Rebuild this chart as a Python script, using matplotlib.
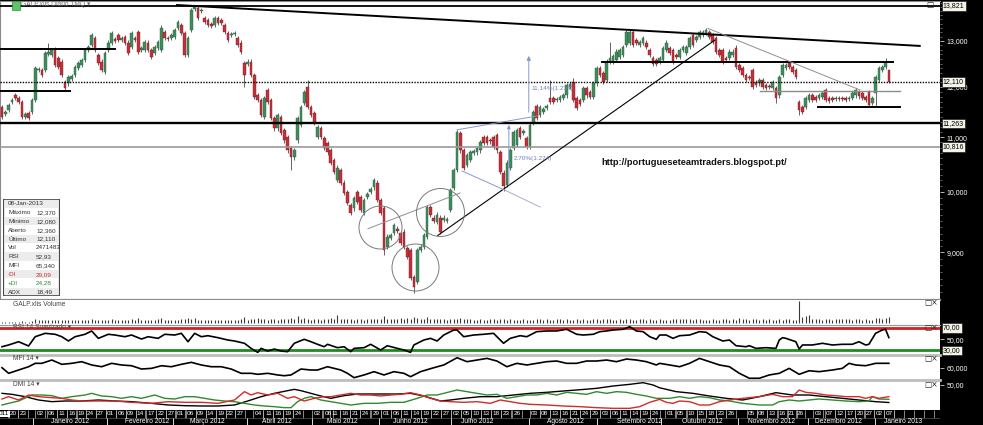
import numpy as np
import matplotlib
matplotlib.use("Agg")
import matplotlib.pyplot as plt
from matplotlib.patches import Rectangle, FancyBboxPatch
from matplotlib.ticker import FixedLocator, FixedFormatter, NullFormatter

plt.rcParams["font.family"] = ["Liberation Sans", "DejaVu Sans"]

# ---------------- data (GALP, daily, Dec-2011 .. 08-Jan-2013) ----------------
opens = [
    11.59, 11.45, 11.53, 11.69, 11.83, 11.77, 11.69, 11.39, 11.47, 11.49,
    11.73, 12.36, 12.36, 12.36, 12.71, 12.69, 12.82, 12.62, 12.54, 12.11,
    12.08, 12.17, 12.25, 12.40, 12.47, 12.58, 12.80, 12.91, 13.07, 12.69,
    12.54, 12.32, 12.80, 12.96, 13.05, 13.14, 13.02, 13.09, 12.96, 12.87,
    13.07, 13.21, 12.80, 12.80, 12.96, 12.80, 12.73, 12.84, 12.80, 13.21,
    13.07, 13.07, 13.09, 13.30, 13.37, 13.18, 12.69, 13.25, 13.74, 13.77,
    13.70, 13.53, 13.48, 13.39, 13.37, 13.53, 13.48, 13.37, 13.18, 13.14,
    13.16, 13.07, 12.96, 12.51, 12.49, 12.54, 12.25, 11.83, 11.73, 11.39,
    11.94, 11.73, 11.37, 11.17, 11.39, 11.14, 11.00, 10.79, 10.62, 10.94,
    11.23, 11.67, 12.00, 11.59, 11.47, 11.00, 11.17, 10.98, 10.89, 10.75,
    10.57, 10.21, 10.39, 10.16, 10.00, 9.77, 9.72, 10.00, 9.91, 9.64,
    9.91, 10.00, 10.08, 10.16, 9.86, 9.72, 9.09, 9.23, 9.31, 9.38,
    9.31, 9.33, 9.07, 9.04, 8.62, 8.55, 9.04, 9.09, 9.25, 9.74,
    9.56, 9.49, 9.56, 9.52, 9.51, 9.69, 10.07, 10.39, 11.08, 10.75,
    10.48, 10.57, 10.70, 10.71, 10.75, 11.00, 11.00, 10.94, 11.00, 11.04,
    10.71, 10.34, 10.12, 10.43, 10.79, 10.85, 11.17, 11.08, 10.98, 10.81,
    11.27, 11.61, 11.43, 11.49, 11.57, 11.77, 11.77, 11.73, 11.73, 11.77,
    11.83, 12.00, 12.11, 11.77, 11.73, 11.73, 11.98, 11.90, 11.79, 12.08,
    12.40, 12.29, 12.15, 12.54, 12.54, 12.58, 12.65, 12.69, 12.91, 12.96,
    13.21, 13.02, 12.91, 12.96, 12.96, 12.80, 12.62, 12.58, 12.54, 12.58,
    12.80, 12.84, 12.80, 12.69, 12.65, 12.80, 12.73, 12.87, 13.14, 13.02,
    13.09, 13.14, 13.18, 13.21, 13.14, 13.07, 12.80, 12.80, 12.62, 12.62,
    12.69, 12.84, 12.47, 12.40, 12.25, 12.21, 12.36, 12.11, 12.08, 12.15,
    12.04, 12.02, 11.98, 11.98, 11.83, 12.25, 12.40, 12.51, 12.43, 12.36,
    11.69, 11.59, 11.59, 11.73, 11.83, 11.79, 11.77, 11.79, 11.94, 11.77,
    11.77, 11.75, 11.77, 11.77, 11.77, 11.75, 11.77, 11.83, 11.90, 11.87,
    11.79, 11.90, 11.67, 11.87, 12.15, 12.36, 12.43, 12.36,
]
closes = [
    11.39, 11.49, 11.63, 11.73, 11.77, 11.69, 11.39, 11.45, 11.37, 11.73,
    12.40, 12.38, 12.25, 12.73, 12.76, 12.80, 12.47, 12.43, 12.25, 11.98,
    12.21, 12.23, 12.43, 12.51, 12.58, 12.80, 12.87, 13.14, 12.80, 12.51,
    12.36, 12.73, 12.96, 13.18, 13.00, 13.02, 13.07, 12.96, 12.73, 13.18,
    13.02, 12.76, 12.84, 12.98, 12.80, 12.65, 12.87, 12.98, 13.30, 13.07,
    13.05, 13.14, 13.25, 13.44, 13.18, 12.69, 13.07, 13.72, 13.79, 13.53,
    13.72, 13.44, 13.37, 13.35, 13.53, 13.41, 13.41, 13.21, 13.02, 13.16,
    13.18, 12.91, 12.76, 12.25, 12.54, 12.25, 11.79, 11.73, 11.43, 11.77,
    11.69, 11.37, 11.17, 11.43, 11.08, 10.94, 10.75, 10.62, 10.75, 11.37,
    11.59, 11.90, 11.59, 11.43, 11.27, 11.19, 11.00, 10.79, 10.71, 10.52,
    10.35, 10.43, 10.16, 9.98, 9.81, 9.64, 9.89, 9.83, 9.69, 9.86,
    9.96, 10.05, 10.21, 9.86, 9.64, 9.04, 9.25, 9.28, 9.44, 9.34,
    9.15, 9.09, 8.93, 8.61, 8.47, 9.04, 9.09, 9.28, 9.74, 9.61,
    9.51, 9.61, 9.33, 9.56, 9.54, 10.03, 10.39, 11.10, 10.75, 10.43,
    10.66, 10.71, 10.73, 10.79, 10.90, 10.89, 10.89, 10.92, 10.81, 10.75,
    10.35, 10.10, 10.52, 10.75, 11.10, 11.14, 11.00, 11.12, 10.81, 11.23,
    11.49, 11.37, 11.59, 11.55, 11.61, 11.69, 11.69, 11.75, 11.79, 11.83,
    12.04, 12.06, 11.73, 11.57, 11.65, 11.98, 11.83, 11.79, 12.08, 12.40,
    12.25, 12.11, 12.54, 12.62, 12.67, 12.76, 12.80, 12.87, 13.21, 13.21,
    12.91, 12.96, 12.98, 13.07, 12.87, 12.69, 12.49, 12.49, 12.62, 12.84,
    12.96, 12.73, 12.54, 12.65, 12.80, 12.87, 12.87, 13.07, 12.91, 13.09,
    13.21, 13.21, 13.25, 13.09, 12.98, 12.76, 12.69, 12.54, 12.58, 12.76,
    12.76, 12.43, 12.36, 12.25, 12.15, 12.19, 12.00, 12.04, 12.15, 12.00,
    11.98, 12.00, 12.11, 11.77, 12.21, 12.47, 12.47, 12.43, 12.32, 12.21,
    11.53, 11.49, 11.77, 11.83, 11.73, 11.73, 11.83, 11.87, 11.73, 11.71,
    11.73, 11.77, 11.75, 11.76, 11.73, 11.77, 11.87, 11.94, 11.81, 11.77,
    11.73, 11.63, 11.77, 12.21, 12.40, 12.43, 12.54, 12.11,
]
# candles whose shadows are long enough to read
wick_highs = {14: 12.96, 48: 13.37, 58: 13.821, 92: 12.15, 165: 12.15, 172: 12.19,
              183: 12.98, 221: 12.91, 266: 12.62, 267: 12.37}
wick_lows = {73: 12.00, 87: 10.39, 115: 8.96, 124: 8.39, 151: 10.01, 233: 11.67,
             240: 11.43, 263: 11.59, 267: 12.08}
# volume, millions of shares
volume = [
    0.6, 0.5, 0.6, 0.5, 0.6, 0.5, 0.7, 0.6, 0.6, 0.8,
    1.6, 1.2, 1.1, 1.3, 1.2, 1.1, 1.2, 1.3, 1.2, 1.4,
    1.3, 1.2, 1.1, 1.2, 1.1, 1.2, 1.4, 1.5, 1.3, 1.2,
    1.4, 1.3, 1.2, 1.5, 1.3, 1.2, 1.1, 1.2, 1.3, 1.9,
    1.2, 2.2, 1.3, 1.2, 1.3, 1.4, 1.2, 1.5, 2.2, 1.3,
    1.2, 1.3, 1.2, 1.4, 1.6, 1.5, 2.0, 1.6, 2.3, 1.4,
    1.2, 1.3, 1.2, 1.1, 1.3, 1.2, 1.2, 1.3, 1.4, 1.3,
    1.2, 1.4, 1.6, 2.8, 1.4, 1.5, 1.7, 2.0, 1.5, 1.6,
    1.4, 1.6, 1.5, 1.4, 1.8, 1.6, 1.5, 2.0, 1.8, 3.0,
    1.6, 2.2, 1.5, 1.4, 1.6, 1.5, 1.4, 1.6, 1.8, 2.0,
    1.6, 3.4, 1.8, 1.5, 1.6, 1.7, 1.4, 1.5, 1.6, 1.4,
    1.5, 1.6, 1.7, 1.5, 1.8, 3.2, 1.6, 1.7, 1.9, 1.8,
    2.0, 1.9, 2.1, 1.8, 2.4, 2.2, 1.9, 1.6, 2.5, 1.8,
    1.6, 1.5, 1.7, 1.6, 1.4, 1.5, 1.8, 1.6, 2.0, 1.7,
    1.5, 1.6, 1.4, 1.3, 1.5, 1.4, 1.3, 1.5, 1.6, 1.4,
    1.5, 1.7, 1.4, 1.6, 1.3, 1.4, 1.3, 1.5, 1.4, 1.3,
    1.4, 1.6, 1.5, 1.4, 1.5, 1.3, 1.4, 1.5, 1.6, 1.4,
    1.5, 1.4, 1.3, 1.6, 1.4, 1.5, 1.3, 1.4, 1.5, 1.6,
    1.4, 1.5, 1.6, 1.5, 1.4, 1.3, 1.5, 1.4, 1.6, 1.5,
    1.4, 1.3, 1.5, 1.6, 1.4, 1.5, 1.3, 1.4, 1.5, 1.4,
    1.3, 1.4, 1.5, 1.9, 1.6, 1.8, 1.5, 1.7, 1.4, 1.6,
    1.5, 1.4, 1.3, 1.4, 1.5, 1.3, 1.4, 1.5, 1.6, 1.4,
    1.5, 1.4, 2.2, 1.6, 1.5, 1.4, 1.6, 1.5, 1.4, 1.5,
    1.4, 1.5, 1.3, 1.4, 1.5, 1.4, 1.6, 1.5, 1.4, 1.3,
    9.6, 2.6, 2.9, 3.4, 1.8, 1.6, 1.5, 1.4, 1.6, 1.5,
    1.4, 1.5, 1.6, 1.5, 1.6, 1.5, 1.4, 1.6, 1.5, 1.4,
    1.5, 1.3, 1.4, 2.1, 2.0, 1.8, 2.2, 2.47,
]

# indicator lines, read as vertices (candle index, value)
rsi_x = [0, 2, 5, 8, 10, 13, 16, 18, 20, 22, 25, 27, 29, 32, 34, 37, 39, 42, 44, 47,
         49, 52, 54, 56, 58, 60, 62, 65, 68, 70, 73, 75, 77, 78, 80, 82, 84, 86, 88, 91,
         93, 95, 97, 98,
         101, 103, 105, 106, 109, 111, 114, 116, 119, 121, 123, 124, 127, 129, 131, 133,
         136, 137, 139, 142, 145, 148, 149, 151, 153, 156, 158, 161, 164, 167, 170, 173,
         175, 178, 180, 182, 184, 187, 189, 191, 193, 195, 197,
         198, 200, 202, 204, 207, 210, 212, 214, 217, 219, 221, 224, 225, 227, 230, 233,
         234, 235, 236, 239, 240, 241, 244, 247, 250, 253, 256, 258, 260, 261, 263, 265,
         266, 267]
rsi_y = [36.7, 39.8, 45.6, 38, 54.5, 60.5, 58.8, 54.5, 46.9, 54.5, 58.8, 64.7, 51.6, 58.8,
         57.5, 54.5, 57.5, 50.4, 54.5, 51.6, 58.8, 57.5, 60.5, 45.6, 60.5, 54.5, 56.3, 52.8,
         48.6, 46.9, 42.8, 33.8, 26.7, 33.8, 29.1, 32.6, 29.1, 27.9, 42.8, 49.9, 45.6, 41,
         36.7, 41,
         35, 36.7, 27.9, 33.8, 35, 41, 30.9, 38.5, 33.8, 30.9, 26.7, 39.8, 48.6, 51.6, 46.9,
         57.5, 66.4, 66.4, 54.5, 57.5, 58.8, 60.5, 54.5, 42.8, 51.6, 56.3, 54.5, 63.5, 64.7,
         64.7, 67.7, 58.8, 57.5, 58.8, 63.5, 64.7, 66.4, 67.7, 72.3, 64.7, 63.5, 54.5, 49.9,
         57.5, 57.5, 51.6, 56.3, 57.5, 63.5, 62.4, 54.5, 46.9, 48.6, 38.5, 36.7, 38.5, 33.8,
         35, 33.8, 48.6, 52.8, 51.6, 45.6, 32.6, 39.8, 39.8, 42.8, 39.8, 41, 41, 45.6, 39.8,
         41, 60.5, 66.4, 67.7, 52.93]

mfi_x = [0, 2, 5, 8, 10, 12, 15, 18, 21, 24, 27, 30, 33, 36, 39, 42, 45, 48, 51, 54,
         57, 60, 63, 66, 69, 72, 75, 77, 80, 83, 85, 87, 90, 93, 95, 98,
         102, 104, 106, 109, 112, 115, 118, 121, 123, 126, 130, 133, 137, 140, 143, 146,
         149, 152, 155, 158, 161, 164, 167, 170, 173, 176, 179, 182, 185, 188, 191, 194, 197,
         198, 201, 204, 207, 210, 213, 216, 219, 222, 225, 228, 231, 234, 237, 240, 243,
         246, 250, 253, 255, 257, 260, 263, 267]
mfi_y = [60, 53.2, 57.2, 61.2, 65.3, 65.3, 69.3, 64.1, 65.3, 67.3, 63.3, 61.2, 65.3, 63.3,
         62.4, 58.4, 59.2, 62.4, 61.2, 64.1, 66.5, 63.3, 61.2, 61.2, 58.4, 53.2, 53.2, 52,
         53.2, 51.2, 50.3, 51.2, 58.4, 57.2, 57.2, 61.2,
         57.2, 53.2, 47.9, 51.2, 55.2, 51.2, 55.2, 53.2, 49.1, 55.2, 60, 63.3, 72.1, 67.3,
         69.3, 71.3, 68.1, 61.2, 65.3, 63.3, 65.3, 67.3, 68.1, 65.3, 65.3, 68.1, 68.1, 69.3,
         67.3, 70.5, 69.3, 67.3, 63.3,
         65.3, 63.3, 61.2, 65.3, 71.3, 67.3, 63.3, 61.2, 53.2, 47.2, 47.2, 51.2, 53.2, 59.2,
         52, 56.3, 55.2, 57.2, 59.2, 65.3, 63.3, 62.4, 65.3, 65.34]

adx_x = [0, 3, 7, 11, 15, 19, 24, 29, 34, 39, 45, 50, 55, 60, 65, 70, 74, 78, 82, 86,
         88, 90, 93, 96, 99,
         103, 107, 111, 115, 119, 123, 127, 132, 135, 139, 144, 149, 154, 159, 164, 169,
         174, 179, 184, 189, 193, 196,
         198, 203, 208, 213, 218, 223, 228, 233, 238, 243, 248, 253, 258, 263, 267]
adx_y = [35, 33.2, 29, 23, 20, 21.2, 21.2, 23, 21.2, 20, 17, 14, 12.8, 12.2, 12.2, 14,
         21.2, 29, 35, 39.8, 42.2, 39.8, 35, 30.2, 26,
         30.8, 33.8, 33.8, 33.8, 33.8, 35, 30.2, 21.2, 23, 26, 29, 29, 32, 35, 36.8, 39.2,
         41.5, 44, 48.2, 51.2, 54.2, 50,
         45, 38, 35, 30.2, 26, 23, 29, 36.2, 32, 32, 29, 26, 23, 20, 18.49]
mdi_x = [0, 2, 5, 8, 11, 15, 18, 21, 24, 29, 34, 39, 45, 50, 55, 60, 65, 70, 73, 75,
         77, 80, 83, 86, 88, 91, 94, 97, 99,
         102, 105, 108, 111, 114, 117, 120, 123, 126, 129, 132, 135, 139, 143, 147, 150,
         153, 156, 159, 164, 169, 174, 179, 184, 189, 192, 195, 198,
         200, 202, 204, 207, 210, 213, 216, 219, 223, 228, 232, 235, 238, 240, 242, 245,
         248, 251, 254, 258, 260, 262, 264, 267]
mdi_y = [24.8, 29, 23, 32, 29, 27.2, 26, 23, 21.2, 21.2, 21.2, 18.8, 17, 20, 18.8, 18.8,
         17, 23, 38, 32, 36.2, 32, 35, 26, 29, 21.2, 26, 29, 29,
         32, 35, 32, 32, 30.2, 32, 33.2, 36.2, 32, 26, 21.2, 20, 18.8, 20, 17, 23, 20, 17,
         15.2, 14, 12.2, 11, 9.2, 8, 8, 11, 18.8, 24.2,
         18.8, 17, 21.2, 20, 14, 14, 20, 23, 26, 29, 33.2, 29, 29, 41, 36.8, 35, 32, 30.8,
         29, 29, 26, 29, 26, 29.09]
pdi_x = [0, 2, 5, 9, 12, 15, 18, 21, 25, 27, 30, 33, 36, 39, 42, 46, 49, 52, 55, 58,
         61, 64, 67, 70, 73, 76, 79, 82, 85, 87, 89, 91, 93, 96, 99,
         102, 105, 109, 113, 117, 121, 125, 128, 131, 137, 140, 143, 146, 149, 152, 155,
         158, 161, 164, 167, 170, 173, 176, 179, 182, 185, 188, 191, 194, 197,
         201, 204, 207, 210, 213, 216, 219, 223, 228, 232, 234, 237, 240, 243, 246, 250,
         254, 258, 261, 262, 264, 267]
pdi_y = [14, 17, 21.2, 32, 32, 30.8, 26, 29, 32, 35, 30.2, 29, 26, 29, 26, 32, 26, 24.8,
         29, 29, 26, 23, 21.2, 20, 17, 14, 12.2, 11, 9.2, 9.2, 20, 26, 29, 23, 20,
         17, 14, 17, 17, 18.8, 18.8, 26, 32, 32, 41, 38, 35, 32, 33.2, 26, 29, 32, 32, 35,
         32, 36.8, 35, 33.2, 38, 35, 38, 36.8, 33.2, 30.2, 26,
         26, 29, 26, 29, 27.2, 23, 21.2, 17, 14, 14, 20, 23, 21.2, 23, 24.8, 23, 21.2, 20,
         21.2, 29, 24.8, 24.28]

# study objects drawn on the price panel: (index0, price0, index1, price1)
trend_lines = [(52.7, 13.84, 276.3, 12.89), (131.2, 9.27, 214.6, 13.02)]
thin_gray_lines = [(212.5, 13.29, 258.3, 11.94), (110.2, 9.38, 137.9, 9.98)]
support_lines = [(-0.6, 12.82, 34.0, 12.82), (-0.6, 11.92, 20.5, 11.92),
                 (180.6, 12.53, 268.2, 12.53), (245.6, 11.59, 270.3, 11.59)]
range_line = (228.2, 11.92, 270.3, 11.92)
circles = [(113.8, 9.41), (124.3, 8.78), (131.8, 9.66)]
circle_px = [43, 47, 48]
boxed_levels = [13.821, 12.110, 11.263, 10.816]
boxed_texts = ["13,821", "12,110", "11,263", "10,816"]

day_labels = ["011", "20", "23", "02", "06", "11", "16", "19", "24", "27", "01", "06", "09",
              "14", "17", "22", "27", "01", "06", "09", "14", "19", "22", "27", "04", "11",
              "16", "19", "24", "02", "08",
              "11", "16", "21", "24", "29", "01", "06", "11", "14", "19", "22", "27", "02",
              "05", "10", "13", "18", "23", "26", "03", "08", "13", "16", "21", "24", "29",
              "03", "06", "11", "14", "19", "24",
              "01", "05", "10", "15", "18", "23", "26", "05", "08", "13", "16", "21", "26",
              "03", "07", "12", "17", "20", "27", "02", "07"]
day_pos = [0.6, 3.3, 6.3, 11.4, 15.0, 18.0, 21.0, 23.9, 26.7, 29.7, 32.7, 35.8, 38.7,
           41.7, 44.8, 47.8, 50.8, 53.7, 56.8, 59.8, 62.8, 65.9, 68.8, 71.8, 77.2, 80.2,
           83.1, 86.2, 89.2, 94.8, 98.2,
           100.2, 103.2, 106.3, 109.3, 112.6, 115.6, 118.6, 121.6, 124.7, 127.7, 130.6,
           133.7, 136.7, 139.7, 142.7, 145.7, 148.7, 151.7, 155.0, 160.4, 163.4, 166.5,
           169.5, 172.5, 175.5, 178.5, 181.5, 184.6, 187.6, 190.5, 193.6, 196.6,
           201.1, 204.3, 207.6, 210.6, 213.6, 216.6, 219.6, 225.7, 228.7, 231.7, 235.0,
           237.7, 240.4, 245.8, 249.2, 252.2, 255.3, 258.3, 261.1, 264.0, 267.1]
future_cells = [268.6, 271.6, 274.6, 277.6, 280.6]
month_labels = ["Janeiro 2012", "Fevereiro 2012", "Março 2012", "Abril 2012", "Maio 2012",
                "Junho 2012", "Julho 2012", "Agosto 2012", "Setembro 2012", "Outubro 2012",
                "Novembro 2012", "Dezembro 2012", "Janeiro 2013"]
month_pos = [20.5, 43.6, 61.7, 82.8, 102.6, 122.8, 143.0, 169.5, 192.0, 210.7, 231.8,
             251.7, 271.2]
month_sep = [9.3, 31.6, 51.5, 73.9, 93.2, 113.5, 135.1, 158.6, 179.1, 198.4, 221.7,
             242.8, 262.9]

info_rows = [("08-Jan-2013", ""), ("Máximo", "12,370"), ("Mínimo", "12,080"),
             ("Aberto", "12,360"), ("Último", "12,110"), ("Vol", "2471483"),
             ("RSI", "52,93"), ("MFI", "65,340"), ("-DI", "29,09"), ("+DI", "24,28"),
             ("ADX", "18,49")]

# ---------------- layout ----------------
W, H = 983, 425
PLOT_R = 940
XMIN, XMAX = -0.6, 282.4

fig = plt.figure(figsize=(W / 100, H / 100), dpi=100, facecolor="black")


def panel(top, bottom):
    a = fig.add_axes([0, 1 - bottom / H, PLOT_R / W, (bottom - top) / H])
    a.set_facecolor("white")
    a.set_xlim(XMIN, XMAX)
    a.set_xticks([])
    for s in a.spines.values():
        s.set_visible(False)
    a.yaxis.tick_right()
    return a


def right_labels(a, ticks, labels):
    a.yaxis.set_major_locator(FixedLocator(ticks))
    a.yaxis.set_major_formatter(FixedFormatter(labels))
    a.tick_params(axis="y", which="major", colors="#d0d0d0", labelcolor="white",
                  labelsize=5, length=3, width=0.6, pad=2)


def boxed(a, y, s):
    a.text(1.003, y, s, transform=a.get_yaxis_transform(), fontsize=5, ha="left",
           va="center", color="black", clip_on=False, zorder=10,
           bbox=dict(boxstyle="square,pad=0.18", fc="#f4f3e8", ec="#222222", lw=0.5))


def icons(y, text="□×"):
    fig.text(924 / W, 1 - y / H, text, fontsize=5.5, color="#222222", va="center",
             family=["DejaVu Sans"])


def panel_label(y, text):
    fig.text(13 / W, 1 - y / H, text, fontsize=4.8, color="#444444", va="center")


# ---------------- price panel ----------------
ax = panel(1, 300)
ax.set_yscale("log")
ax.set_ylim(8.286, 13.937)
right_labels(ax, [9, 10, 11, 12, 13], ["9,000", "10,000", "11,000", "12,000", "13,000"])
ax.yaxis.set_minor_locator(FixedLocator(np.arange(8.4, 13.95, 0.1)))
ax.yaxis.set_minor_formatter(NullFormatter())
ax.tick_params(axis="y", which="minor", colors="#909090", length=1.5, width=0.5)
for side in ["top", "left", "bottom"]:
    ax.spines[side].set_visible(True)
    ax.spines[side].set_color("#8a8a8a")
ax.spines["bottom"].set_linewidth(1.6)

n = len(closes)
xi = np.arange(n)
o = np.array(opens)
c = np.array(closes)
top = np.maximum(o, c)
bot = np.minimum(o, c)
hi = top * 1.004   # short drawing stub for shadows too small to read
lo = bot / 1.004
for k, v in wick_highs.items():
    hi[k] = v
for k, v in wick_lows.items():
    lo[k] = v
up = c >= o
h = np.maximum(top - bot, 0.012)
ax.vlines(xi, lo, hi, color="#4a4a4a", lw=0.6, zorder=3)
ax.bar(xi[up], h[up], bottom=bot[up], width=0.8, color="#3f8d5c", edgecolor="#2b603f",
       lw=0.3, zorder=4)
ax.bar(xi[~up], h[~up], bottom=bot[~up], width=0.8, color="#c3303a", edgecolor="#7d1d24",
       lw=0.3, zorder=4)

# horizontal levels
ax.axhline(13.821, color="black", lw=1.3, zorder=5)
ax.axhline(11.263, color="black", lw=1.7, zorder=5)
ax.axhline(10.816, color="#9a9a9a", lw=1.2, zorder=5)
ax.axhline(12.110, color="black", lw=1.0, ls=(0, (1, 1)), zorder=5)
for x0, p0, x1, p1 in support_lines:
    ax.plot([x0, x1], [p0, p1], color="black", lw=1.4, zorder=5)
ax.plot([range_line[0], range_line[2]], [range_line[1], range_line[3]], color="#8c8c8c",
        lw=1.0, zorder=5)
for x0, p0, x1, p1 in trend_lines:
    ax.plot([x0, x1], [p0, p1], color="black", lw=1.4 if x0 < 100 else 0.8, zorder=5)
for x0, p0, x1, p1 in thin_gray_lines:
    ax.plot([x0, x1], [p0, p1], color="#8f8f8f", lw=0.7, zorder=5)
for (cx, cp), d in zip(circles, circle_px):
    ax.plot(cx, cp, "o", ms=d * 0.72, mfc="none", mec="#7a7a7a", mew=0.7, zorder=5)

# measuring tool drawing
blue = "#8797cf"
ax.plot([137.0, 161.0], [11.14, 11.41], color=blue, lw=0.7, zorder=5)
ax.plot([138.5, 151.4], [10.37, 10.03], color=blue, lw=0.7, zorder=5)
ax.plot([151.4, 162.0], [10.03, 9.74], color="#a9acd0", lw=0.7, zorder=5)
ax.annotate("", xy=(158.6, 12.73), xytext=(158.6, 11.43),
            arrowprops=dict(arrowstyle="-|>", color=blue, lw=0.7, mutation_scale=6), zorder=5)
ax.annotate("", xy=(152.6, 11.29), xytext=(152.6, 10.07),
            arrowprops=dict(arrowstyle="-|>", color=blue, lw=0.7, mutation_scale=5), zorder=5)
ax.text(159.5, 11.97, "11.14%(1.274)", fontsize=4.6, color="#6f80bd", va="center", zorder=6)
ax.text(154.1, 10.60, "2.70%(1.274)", fontsize=4.6, color="#6f80bd", va="center", zorder=6)

ax.text(180.6, 10.53, "http://portugueseteamtraders.blogspot.pt/", fontsize=6.7,
        fontweight="bold", color="#111111", va="center", zorder=6)

for p, s in zip(boxed_levels, boxed_texts):
    boxed(ax, p, s)

# title
fig.patches.append(Rectangle((12 / W, 1 - 10 / H), 8 / W, 9 / H, transform=fig.transFigure,
                             fc="#5cc46a", ec="#2f8a44", lw=0.5, zorder=10))
fig.text(21 / W, 1 - 5 / H, "GALP.xlis Diário TMQ ▾", fontsize=4.8, color="#707070",
         va="center")
fig.text(926 / W, 1 - 4 / H, "□", fontsize=5.5, color="#222222", va="center",
         family=["DejaVu Sans"])

# ---------------- volume ----------------
axv = panel(300, 325)
axv.set_ylim(-0.9, 10.0)
axv.set_yticks([])
axv.vlines(xi, 0, volume, color="#3a3a3a", lw=0.8)
panel_label(304, "GALP.xlis Volume")
icons(303)

# ---------------- RSI ----------------
axr = panel(325, 355)
axr.set_ylim(22, 75.3)
right_labels(axr, [50], ["50,00"])
axr.spines["top"].set_visible(True)
axr.spines["top"].set_color("#9a9a9a")
axr.spines["top"].set_linewidth(0.8)
axr.axhline(70, color="#d42020", lw=2.0)
axr.axhline(30, color="#1f8a1f", lw=2.0)
axr.plot(rsi_x, rsi_y, color="black", lw=1.2)
boxed(axr, 70, "70,00")
boxed(axr, 30, "30,00")
panel_label(327.5, "RSI 14 Suavizado ▾")
icons(327.5)

# ---------------- MFI ----------------
axm = panel(355, 380)
axm.set_ylim(45.1, 75.4)
right_labels(axm, [60], ["60,000"])
axm.spines["top"].set_visible(True)
axm.spines["top"].set_color("#bdbdbd")
axm.spines["top"].set_linewidth(2.0)
axm.plot(mfi_x, mfi_y, color="black", lw=1.2)
panel_label(358.5, "MFI 14 ▾")
icons(358)

# ---------------- DMI ----------------
axd = panel(380, 410)
axd.set_ylim(5, 59)
right_labels(axd, [50], ["50,00"])
axd.spines["top"].set_visible(True)
axd.spines["top"].set_color("#bdbdbd")
axd.spines["top"].set_linewidth(2.0)
axd.plot(adx_x, adx_y, color="black", lw=1.0)
axd.plot(pdi_x, pdi_y, color="#2f8a2f", lw=1.0)
axd.plot(mdi_x, mdi_y, color="#d42a2a", lw=1.0)
panel_label(384, "DMI 14 ▾")
icons(384)

# ---------------- date axis ----------------
axt = panel(410, 425)
axt.set_facecolor("black")
axt.set_ylim(0, 1)
axt.set_yticks([])
for k, (lab, p) in enumerate(zip(day_labels, day_pos)):
    if k == 0:
        axt.text(p, 0.74, lab, color="black", fontsize=4.6, ha="center", va="center",
                 bbox=dict(boxstyle="square,pad=0.1", fc="white", ec="white", lw=0))
    else:
        axt.text(p, 0.74, lab, color="white", fontsize=4.6, ha="center", va="center")
    axt.vlines([p - 1.5, p + 1.5], 0.5, 1.0, color="#bdbdbd", lw=0.5)
axt.vlines(future_cells, 0.5, 1.0, color="#bdbdbd", lw=0.5)
axt.axhline(0.5, color="#555555", lw=0.5)
for lab, p in zip(month_labels, month_pos):
    axt.text(p, 0.22, lab, color="white", fontsize=4.8, ha="center", va="center")
axt.vlines(month_sep, 0, 0.5, color="white", lw=0.6)

# ---------------- info box ----------------
ib = fig.add_axes([3 / W, 1 - 296 / H, 57 / W, 97 / H])
ib.set_xlim(0, 1)
ib.set_ylim(len(info_rows), 0)
ib.axis("off")
for r, (lab, val) in enumerate(info_rows):
    ib.add_patch(Rectangle((0.03, r + 0.05), 0.94, 0.95,
                           fc="#ececec" if r % 2 == 0 else "white", ec="none"))
    col = "#333333"
    if lab == "-DI":
        col = "#c83030"
    elif lab == "+DI":
        col = "#2a8a3a"
    ib.text(0.09, r + 0.55, lab, fontsize=4.6, color=col, va="center")
    if val:
        ib.text(0.58, r + 0.55, val, fontsize=4.6, color=col, va="center")
ib.add_patch(FancyBboxPatch((0.01, 0.03), 0.98, len(info_rows) - 0.06,
                            boxstyle="round,pad=0,rounding_size=0.03", fill=False,
                            ec="#444444", lw=0.8))

fig.savefig("out.png", dpi=100, facecolor="black")
